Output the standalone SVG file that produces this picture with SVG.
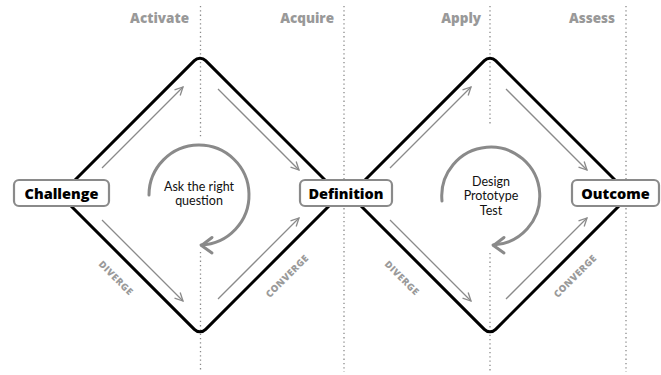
<svg xmlns="http://www.w3.org/2000/svg" width="661" height="375" viewBox="0 0 661 375">
<defs>
<style>
.dot{stroke:#8a8a8a;stroke-width:1.3;stroke-dasharray:1.3 3;fill:none}
.dia{stroke:#000;stroke-width:3;fill:none;stroke-linejoin:round}
.arr{stroke:#8a8a8a;stroke-width:1.3;fill:none;marker-end:url(#ah)}
.loop{stroke:#8a8a8a;stroke-width:3;fill:none;stroke-linecap:round;stroke-linejoin:round}
.phase{font-family:"Open Sans","Liberation Sans",sans-serif;font-weight:800;font-size:13.5px;fill:#999;text-anchor:end}
.box{fill:#fff;stroke:#8a8a8a;stroke-width:2.2}
.nt{font-family:"Open Sans","Liberation Sans",sans-serif;font-weight:800;font-size:14.5px;fill:#000;text-anchor:middle}
.ct{font-family:Lato,"Liberation Sans",sans-serif;font-size:12.5px;fill:#111;text-anchor:middle}
.side{font-family:"Open Sans","Liberation Sans",sans-serif;font-weight:800;font-size:9.5px;fill:#9a9a9a;text-anchor:middle;letter-spacing:0.5px}
</style>
<marker id="ah" viewBox="0 0 10 10" refX="9" refY="5" markerWidth="10" markerHeight="10" markerUnits="userSpaceOnUse" orient="auto">
<path d="M1,1 L9,5 L1,9" fill="none" stroke="#8a8a8a" stroke-width="1.3"/>
</marker>
</defs>
<rect width="661" height="375" fill="#fff"/>
<g id="guides">
<line class="dot" x1="200.5" y1="6" x2="200.5" y2="137"/>
<line class="dot" x1="200.5" y1="252" x2="200.5" y2="372"/>
<line class="dot" x1="344" y1="6" x2="344" y2="372"/>
<line class="dot" x1="490" y1="6" x2="490" y2="125"/>
<line class="dot" x1="490" y1="253" x2="490" y2="372"/>
<line class="dot" x1="626" y1="6" x2="626" y2="372"/>
</g>
<g id="phases">
<text class="phase" x="189" y="23">Activate</text>
<text class="phase" x="334" y="23">Acquire</text>
<text class="phase" x="481" y="23">Apply</text>
<text class="phase" x="615" y="23">Assess</text>
</g>
<g id="connectors">
<path class="dia" d="M60,195 L194.34,60.66 A8,8 0 0 1 205.66,60.66 L340,195 L205.66,329.34 A8,8 0 0 1 194.34,329.34 Z"/>
<path class="dia" d="M350,195 L484.34,60.66 A8,8 0 0 1 495.66,60.66 L630,195 L495.66,329.34 A8,8 0 0 1 484.34,329.34 Z"/>
<line class="arr" x1="102" y1="168" x2="183" y2="87"/>
<line class="arr" x1="218" y1="89" x2="299" y2="170"/>
<line class="arr" x1="102" y1="220" x2="183" y2="301"/>
<line class="arr" x1="218" y1="299" x2="299" y2="218"/>
<line class="arr" x1="390" y1="168" x2="471" y2="87"/>
<line class="arr" x1="506" y1="89" x2="587" y2="170"/>
<line class="arr" x1="390" y1="220" x2="471" y2="301"/>
<line class="arr" x1="506" y1="299" x2="587" y2="218"/>
<text class="side" transform="translate(116,278) rotate(45)" y="3.5">DIVERGE</text>
<text class="side" transform="translate(287,276) rotate(-45)" y="3.5">CONVERGE</text>
<text class="side" transform="translate(402,278) rotate(45)" y="3.5">DIVERGE</text>
<text class="side" transform="translate(575,276) rotate(-45)" y="3.5">CONVERGE</text>
</g>
<g id="loop1">
<path class="loop" d="M149,195 A50,50 0 1 1 201,245"/>
<polyline class="loop" points="212,237.5 201.5,245.5 212,253"/>
<text class="ct" x="199" y="191">Ask the right</text>
<text class="ct" x="199" y="205">question</text>
</g>
<g id="loop2">
<path class="loop" d="M442,201 A49,49 0 1 1 493,245"/>
<polyline class="loop" points="504,237.5 493.5,245.5 504,253"/>
<text class="ct" x="491" y="186">Design</text>
<text class="ct" x="491" y="200">Prototype</text>
<text class="ct" x="491" y="215">Test</text>
</g>
<g id="challenge">
<rect class="box" x="14" y="180" width="95" height="26" rx="5"/>
<text class="nt" x="61.5" y="198.5">Challenge</text>
</g>
<g id="definition">
<rect class="box" x="300" y="180" width="92" height="26" rx="5"/>
<text class="nt" x="346" y="198.5">Definition</text>
</g>
<g id="outcome">
<rect class="box" x="572" y="180" width="87" height="26" rx="5"/>
<text class="nt" x="615.5" y="198.5">Outcome</text>
</g>
</svg>
